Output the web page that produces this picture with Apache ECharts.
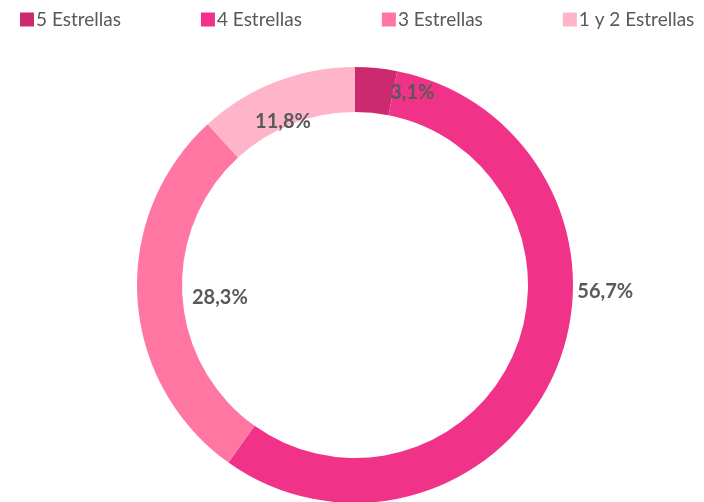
<!DOCTYPE html>
<html>
<head>
<meta charset="utf-8">
<script src="https://cdn.jsdelivr.net/npm/echarts@6/dist/echarts.min.js"></script>
<style>
  html, body { margin: 0; padding: 0; background: #fff; }
  #main { width: 704px; height: 502px; }
</style>
</head>
<body>
<div id="main"></div>
<script>
    var categorias = ['5 Estrellas', '4 Estrellas', '3 Estrellas', '1 y 2 Estrellas'];
    var valores = [3.1, 56.7, 28.3, 11.8];
    var colores = ['#CB2A6E', '#F03388', '#FF76A2', '#FFB5C9'];
    // desplazamiento de cada etiqueta respecto a su posición "inside"
    var desplaz = [[38, 5], [68, -72], [63, 0], [0, 22]];

    var myChart = echarts.init(document.getElementById('main'));

    var datos = [];
    for (var i = 0; i < categorias.length; i++) {
        datos.push({
            name: categorias[i],
            value: valores[i],
            itemStyle: { color: colores[i] },
            label: { offset: desplaz[i] }
        });
    }

    myChart.setOption({
        backgroundColor: '#fff',
        animation: false,
        legend: {
            top: 10,
            left: 20,
            padding: 0,
            itemWidth: 14,
            itemHeight: 14,
            itemGap: 80,
            icon: 'rect',
            textStyle: {
                fontFamily: 'Lato',
                fontSize: 19,
                color: '#595959',
                padding: [0, 0, 0, -3]
            },
            data: categorias
        },
        series: [{
            type: 'pie',
            center: [355, 285],
            radius: [173, 218],
            startAngle: 90,
            clockwise: true,
            avoidLabelOverlap: false,
            label: {
                show: true,
                position: 'inside',
                formatter: function (p) {
                    return p.value.toFixed(1).replace('.', ',') + '%';
                },
                fontFamily: 'Lato',
                fontWeight: 'bold',
                fontSize: 20,
                color: '#595959'
            },
            labelLine: { show: false },
            itemStyle: { borderWidth: 0 },
            emphasis: { disabled: true },
            data: datos
        }]
    });
</script>
</body>
</html>
